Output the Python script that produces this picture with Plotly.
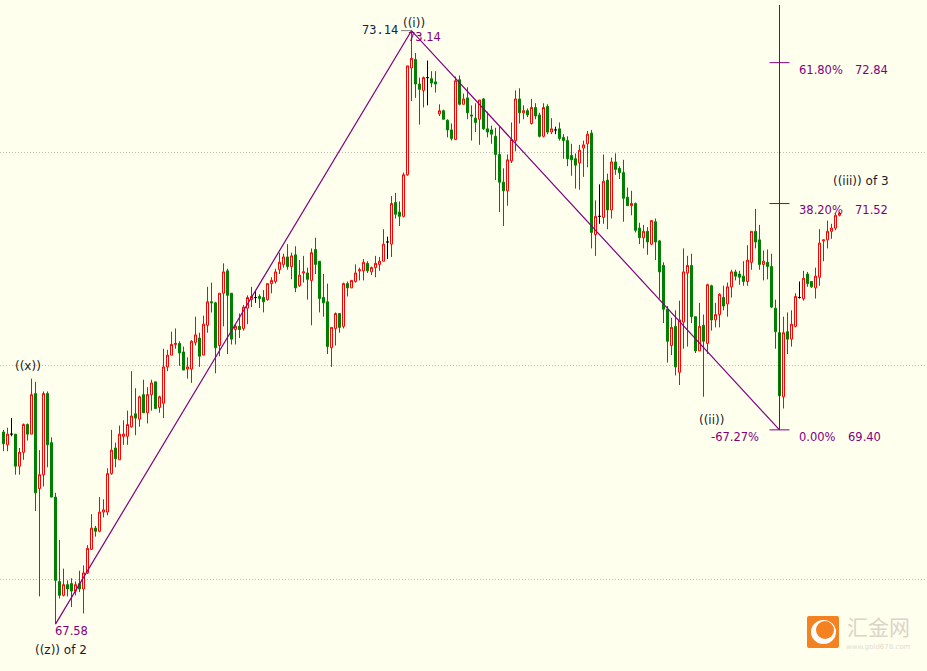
import plotly.graph_objects as go

opens = [
69.38,69.26,69.36,69.36,69.06,69.19,69.45,69.36,69.74,68.85,
68.98,69.74,69.28,68.77,67.98,67.85,67.95,67.96,67.89,67.96,
67.91,68.06,68.28,68.48,68.45,68.63,68.63,68.99,69.23,69.12,
69.34,69.34,69.43,69.55,69.50,69.73,69.56,69.73,69.85,69.61,
69.65,69.99,70.10,70.20,70.21,70.13,69.97,69.97,70.22,70.26,
70.10,70.38,70.60,70.59,70.19,70.68,70.89,70.68,70.34,70.37,
70.35,70.54,70.62,70.64,70.65,70.64,70.62,70.77,70.79,70.90,
70.95,71.02,70.93,71.04,70.75,70.87,70.87,70.80,71.09,70.98,
70.64,70.60,70.17,70.35,70.49,70.37,70.77,70.73,70.79,70.89,
70.89,70.96,70.88,70.92,70.95,70.98,71.16,71.14,71.53,71.44,
71.40,71.79,72.79,72.87,72.64,72.58,72.70,72.69,72.66,72.36,
72.39,72.30,72.21,72.12,72.68,72.45,72.51,72.35,72.32,72.31,
72.50,72.22,72.21,72.15,71.98,71.72,71.64,71.92,72.11,72.50,
72.37,72.39,72.27,72.42,72.35,72.15,72.43,72.19,72.21,72.22,
72.14,72.11,71.97,71.94,71.90,72.04,72.08,72.18,71.23,71.40,
71.39,71.74,71.46,71.91,71.85,71.81,71.58,71.50,71.52,71.29,
71.20,71.26,71.14,71.35,71.17,70.94,70.53,70.19,70.37,69.94,
70.41,70.87,70.94,70.46,70.14,70.38,70.21,70.75,70.43,70.48,
70.64,70.58,70.74,70.88,70.86,70.84,70.79,70.97,71.26,71.18,
70.95,70.97,70.93,70.54,70.31,69.71,70.32,70.25,70.37,70.64,
70.63,70.86,70.79,70.73,70.83,71.17,71.18,71.26,71.29,71.41,
]

highs = [
69.40,69.42,69.51,69.36,69.23,69.46,69.46,69.88,69.85,69.21,
69.76,69.76,69.33,68.81,68.37,68.10,67.99,68.01,67.98,68.08,
68.13,68.32,68.61,68.50,68.77,68.75,69.04,69.40,69.28,69.44,
69.49,69.58,69.95,69.79,69.72,69.87,69.80,69.87,69.85,69.72,
70.16,70.15,70.32,70.35,70.23,70.18,70.08,70.24,70.46,70.31,
70.47,70.74,70.78,70.60,70.68,70.96,70.91,70.68,70.39,70.49,
70.57,70.66,70.74,70.70,70.67,70.71,70.77,70.83,70.91,71.06,
71.05,71.14,71.06,71.12,70.99,71.03,70.92,71.10,71.20,70.98,
70.86,70.77,70.36,70.50,70.49,70.78,70.79,70.80,70.95,70.92,
71.00,70.98,70.93,71.03,71.02,71.28,71.21,71.59,71.62,71.54,
71.81,72.81,73.14,72.93,72.70,72.71,72.86,72.76,72.76,72.45,
72.40,72.31,72.27,72.71,72.72,72.55,72.61,72.44,72.46,72.49,
72.51,72.38,72.25,72.23,72.24,71.85,71.98,72.28,72.58,72.60,
72.44,72.41,72.50,72.46,72.37,72.46,72.45,72.32,72.24,72.28,
72.17,72.15,72.08,71.99,72.07,72.11,72.20,72.21,71.55,71.70,
71.98,71.80,71.95,71.99,71.87,71.93,71.67,71.64,71.53,71.34,
71.32,71.30,71.36,71.38,71.18,70.97,70.56,70.45,70.52,70.61,
71.10,71.03,71.05,70.46,70.59,70.48,70.77,70.76,70.59,70.68,
70.75,70.78,70.90,70.90,70.89,70.98,71.13,71.26,71.47,71.32,
71.08,71.09,71.05,70.62,70.31,70.46,70.50,70.52,70.68,70.79,
70.89,70.88,70.79,70.92,71.28,71.18,71.36,71.33,71.43,71.44,
]

lows = [
69.20,69.20,69.34,68.98,68.98,69.12,69.30,69.36,68.64,67.84,
68.87,69.05,68.77,67.58,67.82,67.84,67.84,67.74,67.85,67.88,
67.68,68.05,68.28,68.40,68.44,68.58,68.60,68.98,69.05,69.12,
69.26,69.26,69.42,69.35,69.43,69.56,69.46,69.58,69.60,69.56,
69.51,69.95,70.10,70.16,70.00,69.96,69.88,69.84,70.19,69.99,
70.10,70.31,70.50,69.93,70.09,70.37,70.11,70.20,70.20,70.26,
70.33,70.39,70.55,70.59,70.54,70.50,70.61,70.68,70.77,70.86,
70.92,70.90,70.81,70.69,70.74,70.78,70.62,70.38,70.86,70.50,
70.46,70.11,69.99,70.19,70.31,70.35,70.65,70.73,70.78,70.80,
70.80,70.87,70.85,70.83,70.89,70.98,71.00,71.02,71.38,71.31,
71.39,71.78,72.48,72.51,72.26,72.42,72.44,72.61,72.56,72.34,
72.31,72.14,72.11,72.12,72.44,72.45,72.31,72.11,72.19,72.07,
72.21,72.14,72.08,71.74,71.44,71.31,71.50,71.90,72.01,72.27,
72.31,72.33,72.26,72.31,72.14,72.14,72.17,72.17,72.17,72.11,
71.94,71.87,71.78,71.66,71.65,71.77,71.86,71.10,71.03,71.33,
71.33,71.28,71.38,71.79,71.75,71.35,71.50,71.41,71.25,71.14,
71.10,71.04,71.13,70.99,70.63,70.40,70.03,70.10,69.91,69.82,
70.16,70.18,70.40,70.12,70.14,69.71,70.11,70.33,70.36,70.36,
70.52,70.46,70.64,70.80,70.76,70.75,70.75,70.90,71.10,70.90,
70.80,70.81,70.54,70.16,69.72,69.60,70.11,70.18,70.36,70.63,
70.61,70.74,70.73,70.63,70.75,70.98,71.10,71.19,71.27,71.40,
]

closes = [
69.27,69.36,69.36,69.06,69.19,69.45,69.36,69.73,68.81,68.98,
69.74,69.26,68.77,67.99,67.85,67.95,67.91,67.89,67.95,67.91,
68.06,68.29,68.48,68.45,68.63,68.65,68.99,69.21,69.13,69.36,
69.36,69.45,69.53,69.51,69.71,69.56,69.73,69.84,69.60,69.71,
69.99,70.10,70.20,70.21,70.12,69.96,69.99,70.23,70.29,70.09,
70.39,70.60,70.59,70.17,70.68,70.88,70.66,70.25,70.37,70.34,
70.55,70.64,70.65,70.64,70.63,70.60,70.77,70.80,70.88,70.97,
71.02,70.93,71.03,70.73,70.85,70.88,70.81,71.06,70.95,70.63,
70.59,70.18,70.36,70.49,70.36,70.77,70.73,70.80,70.87,70.90,
70.97,70.89,70.92,70.96,70.98,71.14,71.16,71.52,71.42,71.40,
71.79,72.81,72.88,72.64,72.59,72.70,72.70,72.65,72.64,72.39,
72.31,72.21,72.13,72.67,72.45,72.50,72.37,72.34,72.28,72.49,
72.22,72.19,72.17,71.98,71.72,71.64,71.93,72.12,72.50,72.37,
72.39,72.35,72.42,72.34,72.15,72.42,72.19,72.22,72.21,72.13,
72.11,71.94,71.93,71.88,72.02,72.07,72.17,71.25,71.40,71.40,
71.73,71.46,71.91,71.84,71.81,71.57,71.50,71.52,71.27,71.20,
71.26,71.16,71.36,71.16,70.88,70.53,70.23,70.36,69.99,70.43,
70.88,70.94,70.46,70.14,70.37,70.23,70.76,70.43,70.48,70.67,
70.56,70.74,70.88,70.84,70.83,70.79,70.99,71.26,71.16,70.95,
70.98,70.93,70.55,70.32,69.72,70.31,70.25,70.39,70.65,70.64,
70.82,70.77,70.74,70.84,71.15,71.18,71.26,71.29,71.41,71.43,
]

wave_bars = [13, 102, 194]
wave_prices = [67.58, 73.14, 69.40]
fib_bar = 194
fib_top = 73.38
fib_levels = [72.84, 71.52, 69.40]
grid_prices = [68, 70, 72]

BG = "#FFFFEE"
PURPLE = "#800080"
W, H = 927, 671
bars = list(range(len(opens)))
is_doji = [o == c for o, c in zip(opens, closes)]


def pick(seq, doji):
    return [v for v, d in zip(seq, is_doji) if d == doji]


fig = go.Figure()
fig.add_trace(go.Candlestick(
    x=pick(bars, False), open=pick(opens, False), high=pick(highs, False),
    low=pick(lows, False), close=pick(closes, False),
    increasing=dict(line=dict(color="#FF0000", width=1), fillcolor=BG),
    decreasing=dict(line=dict(color="#008000", width=1), fillcolor="#008000"),
    whiskerwidth=0, hoverinfo="skip"))
fig.add_trace(go.Candlestick(
    x=pick(bars, True), open=pick(opens, True), high=pick(highs, True),
    low=pick(lows, True), close=pick(closes, True),
    increasing=dict(line=dict(color="#000000", width=1), fillcolor="#000000"),
    decreasing=dict(line=dict(color="#000000", width=1), fillcolor="#000000"),
    whiskerwidth=0, hoverinfo="skip"))
fig.add_trace(go.Scatter(x=wave_bars, y=wave_prices, mode="lines",
                         line=dict(color=PURPLE, width=1.2), hoverinfo="skip"))
fib_x = [fib_bar, fib_bar, None]
fib_y = [fib_levels[-1], fib_top, None]
for lv in fib_levels:
    fib_x += [fib_bar - 2.5, fib_bar + 2.5, None]
    fib_y += [lv, lv, None]
fig.add_trace(go.Scatter(x=fib_x, y=fib_y, mode="lines",
                         line=dict(color=PURPLE, width=1), hoverinfo="skip"))
fig.add_trace(go.Scatter(x=[wave_bars[1] - 2.6, wave_bars[1]],
                         y=[wave_prices[1], wave_prices[1]], mode="lines",
                         line=dict(color="#808080", width=1), hoverinfo="skip"))


def note(text, x, y, color, font="DejaVu Sans", size=11.5):
    fig.add_annotation(text=text, x=x / W, y=1 - y / H, xref="paper", yref="paper",
                       xanchor="center", yanchor="middle", showarrow=False,
                       font=dict(family=font, size=size, color=color))


LAB = "#1A1A2A"
note("((x))", 28, 366, LAB, size=12)
note("((z)) of 2", 61, 650, LAB, size=12)
note("67.58", 71, 631, PURPLE)
note("((i))", 414, 23, LAB, size=12)
note("73.14", 380, 30, "#0A2A4A", font="DejaVu Sans Mono", size=12)
note("73.14", 424, 37, PURPLE)
note("61.80%", 821, 70, PURPLE)
note("72.84", 871, 70, PURPLE)
note("38.20%", 821, 209.5, PURPLE)
note("71.52", 871, 209.5, PURPLE)
note("((iii)) of 3", 861, 181.5, LAB, size=12)
note("((ii))", 711, 420, LAB, size=12)
note("-67.27%", 735, 436.5, PURPLE)
note("0.00%", 817, 436.5, PURPLE)
note("69.40", 864, 436.5, PURPLE)
note("汇金网", 878, 626, "#DDD3C6", font="Noto Sans CJK SC", size=21)
note("www.gold678.com", 878, 647, "#E2DCD2", font="DejaVu Sans", size=7)

fig.add_shape(type="path", xref="paper", yref="paper", fillcolor="#F58220", line_width=0,
              path=" ".join([
                  f"M {809/W} {1-616/H}", f"L {837/W} {1-616/H}", f"Q {839/W} {1-616/H} {839/W} {1-618/H}",
                  f"L {839/W} {1-646/H}", f"Q {839/W} {1-648/H} {837/W} {1-648/H}",
                  f"L {809/W} {1-648/H}", f"Q {807/W} {1-648/H} {807/W} {1-646/H}",
                  f"L {807/W} {1-618/H}", f"Q {807/W} {1-616/H} {809/W} {1-616/H}", "Z"]))
fig.add_shape(type="circle", xref="paper", yref="paper", fillcolor="#FFFFFF", line_width=0,
              x0=811/W, x1=836/W, y0=1-644/H, y1=1-620/H)
fig.add_shape(type="circle", xref="paper", yref="paper", fillcolor="#F58220", line_width=0,
              x0=816/W, x1=834/W, y0=1-639/H, y1=1-621/H)

x_per_px = 0.25
fig.update_layout(
    width=W, height=H, margin=dict(l=0, r=0, t=0, b=0), autosize=False,
    paper_bgcolor=BG, plot_bgcolor=BG, showlegend=False,
    boxmode="overlay", boxgap=0.5, boxgroupgap=0,
    xaxis=dict(range=[-0.875, -0.875 + W * x_per_px], visible=False, showgrid=False,
               zeroline=False, rangeslider=dict(visible=False), fixedrange=True),
    yaxis=dict(range=[67.141, 73.427], tickvals=grid_prices, showticklabels=False, ticks="",
               showline=False, zeroline=False, showgrid=True, gridcolor="#BDBDB0",
               griddash="1px,2px", gridwidth=1, fixedrange=True),
)

fig.write_html("out.html", config=dict(displayModeBar=False),
               post_script="document.body.style.margin='0';document.body.style.overflow='hidden';")
